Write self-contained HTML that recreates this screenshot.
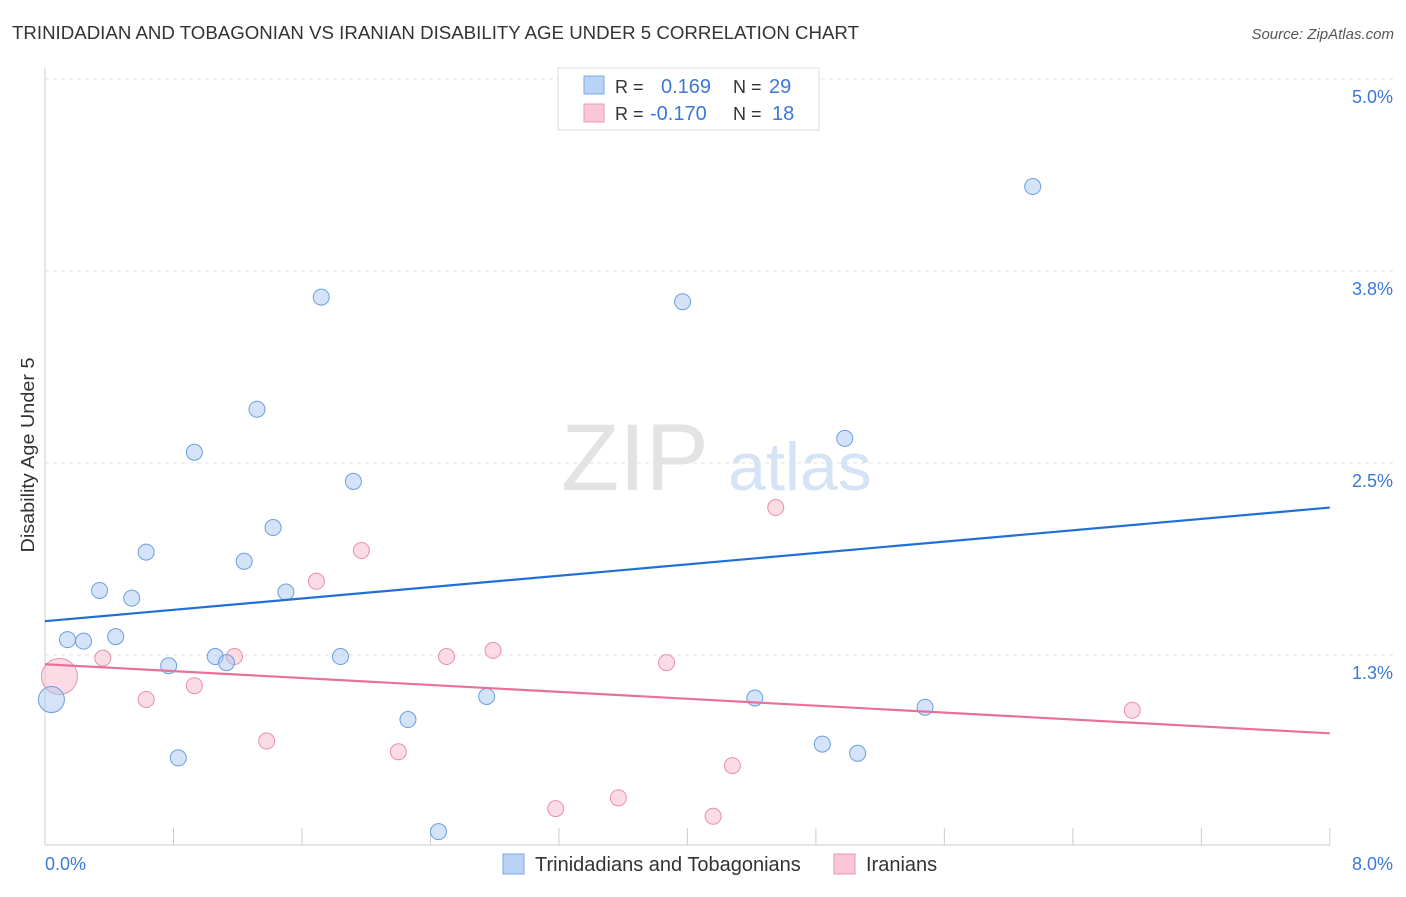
<!DOCTYPE html>
<html><head><meta charset="utf-8"><style>
body{margin:0;background:#fff;font-family:"Liberation Sans",sans-serif}
svg text{font-family:"Liberation Sans",sans-serif}
</style></head><body>
<svg width="1406" height="892" viewBox="0 0 1406 892" xmlns="http://www.w3.org/2000/svg">
<text x="12" y="39" font-size="18" fill="#333" textLength="847" lengthAdjust="spacingAndGlyphs">TRINIDADIAN AND TOBAGONIAN VS IRANIAN DISABILITY AGE UNDER 5 CORRELATION CHART</text>
<text x="1394" y="39" font-size="15" fill="#555" text-anchor="end" font-style="italic">Source: ZipAtlas.com</text>
<text x="635" y="490" font-size="95" fill="#e3e3e3" text-anchor="middle" font-family="Liberation Serif">ZIP</text>
<text x="800" y="490" font-size="68" fill="#d5e3f6" text-anchor="middle">atlas</text>
<g id="grid"></g>
<line x1="45" y1="68" x2="45" y2="845" stroke="#ccc"/>
<line x1="45" y1="845" x2="1330" y2="845" stroke="#ccc"/>
<g id="ticks"></g>
<text x="34" y="455" font-size="18" fill="#333" text-anchor="middle" textLength="195" lengthAdjust="spacingAndGlyphs" transform="rotate(-90 34 455)">Disability Age Under 5</text>
<text x="45" y="870" font-size="18" fill="#3b78d8">0.0%</text>
<text x="1393" y="870" font-size="18" fill="#3b78d8" text-anchor="end">8.0%</text>
<g id="marks"></g>
<g>
<rect x="558" y="68" width="261" height="62" fill="#fff" stroke="#ddd"/>
<rect x="584" y="76" width="20" height="18" fill="#b8d3f5" stroke="#7aa7e3"/>
<rect x="584" y="104" width="20" height="18" fill="#f9c7d6" stroke="#eb9ab3"/>
<text x="615" y="93" font-size="18" fill="#333">R =</text><text x="661" y="93" font-size="20" fill="#3b78d8">0.169</text>
<text x="733" y="93" font-size="18" fill="#333">N =</text><text x="769" y="93" font-size="20" fill="#3b78d8">29</text>
<text x="615" y="120" font-size="18" fill="#333">R =</text><text x="650" y="120" font-size="20" fill="#3b78d8">-0.170</text>
<text x="733" y="120" font-size="18" fill="#333">N =</text><text x="772" y="120" font-size="20" fill="#3b78d8">18</text>
</g>
<g>
<rect x="503" y="854" width="21" height="20" fill="#b8d3f5" stroke="#7aa7e3"/>
<text x="535" y="871" font-size="20" fill="#333">Trinidadians and Tobagonians</text>
<rect x="834" y="854" width="21" height="20" fill="#f9c7d6" stroke="#eb9ab3"/>
<text x="866" y="871" font-size="20" fill="#333">Iranians</text>
</g>
</svg>
<script>
const yTicks=[5.0,3.75,2.5,1.25];
const yTickLabels=["5.0%","3.8%","2.5%","1.3%"];
const xTicks=[0.8,1.6,2.4,3.2,4.0,4.8,5.6,6.4,7.2,8.0];
const blueX=[0.04,0.14,0.24,0.34,0.44,0.54,0.63,0.77,0.83,0.93,1.06,1.13,1.24,1.32,1.42,1.50,1.72,1.84,1.92,2.26,2.45,2.75,3.97,4.42,4.84,4.98,5.06,5.48,6.15];
const blueY=[0.96,1.35,1.34,1.67,1.37,1.62,1.92,1.18,0.58,2.57,1.24,1.20,1.86,2.85,2.08,1.66,3.58,1.24,2.38,0.83,0.10,0.98,3.55,0.97,0.67,2.66,0.61,0.91,4.30];
const pinkX=[0.09,0.36,0.63,0.93,1.18,1.38,1.69,1.97,2.20,2.50,2.79,3.18,3.57,3.87,4.16,4.28,4.55,6.77];
const pinkY=[1.11,1.23,0.96,1.05,1.24,0.69,1.73,1.93,0.62,1.24,1.28,0.25,0.32,1.20,0.20,0.53,2.21,0.89];
const blueTrend=[1.47,2.21];
const pinkTrend=[1.19,0.74];
const NS="http://www.w3.org/2000/svg";
const xs=v=>45+v*160.6, ys=v=>847-v*153.6;
function mk(t,a,p){const e=document.createElementNS(NS,t);for(const k in a)e.setAttribute(k,a[k]);p.appendChild(e);return e;}
const grid=document.getElementById('grid'),ticks=document.getElementById('ticks'),marks=document.getElementById('marks');
yTicks.forEach((v,i)=>{
 const l=mk('line',{x1:45,x2:1393,y1:ys(v),y2:ys(v),stroke:'#e2e2e2','stroke-dasharray':'4,4'},grid);
 
 
 const t=mk('text',{x:1393,y:ys(v)+24,'font-size':18,fill:'#3b78d8','text-anchor':'end'},grid);
 t.textContent=yTickLabels[i];
 
 
});
xTicks.forEach(v=>{
 const l=mk('line',{x1:xs(v),x2:xs(v),y1:828,y2:845,stroke:'#ccc'},ticks);
 
 
});
function dots(X,Y,fill,stroke,name,bigIdx,bigR){
 X.forEach((x,i)=>{
  const c=mk('circle',{cx:xs(x),cy:ys(Y[i]),r:i===bigIdx?bigR:8,fill:fill,'fill-opacity':0.5,stroke:stroke,'stroke-width':1},marks);
  
  
 });
}
dots(pinkX,pinkY,'#f7b9cc','#e890aa','iranian-point',0,18);
dots(blueX,blueY,'#a9c8f0','#6a9fe0','trinidadian-point',0,13);
const bl=mk('line',{x1:xs(0),y1:ys(blueTrend[0]),x2:xs(8),y2:ys(blueTrend[1]),stroke:'#1f6fd6','stroke-width':2.2},marks);


const pl=mk('line',{x1:xs(0),y1:ys(pinkTrend[0]),x2:xs(8),y2:ys(pinkTrend[1]),stroke:'#e8719a','stroke-width':2.2},marks);


</script>
</body></html>
